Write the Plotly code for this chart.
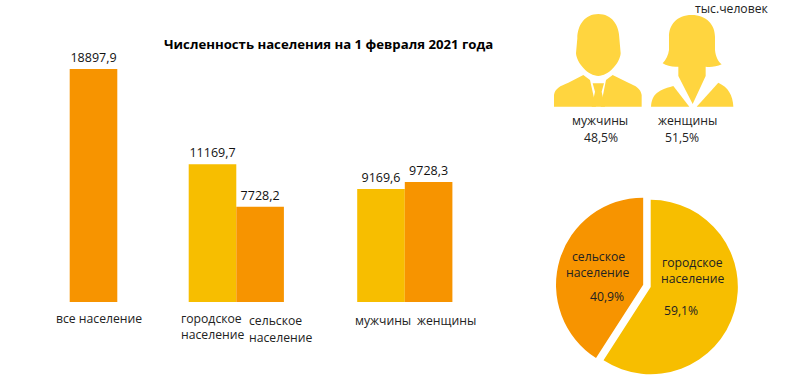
import re
import plotly.graph_objects as go

W, H = 804, 382
bar_labels = ["все население", "городское население", "сельское население", "мужчины", "женщины"]
bar_values = [18897.9, 11169.7, 7728.2, 9169.6, 9728.3]
YELLOW, ORANGE, ICON = "#F7BE00", "#F79400", "#FFD53F"
bar_colors = [ORANGE, YELLOW, ORANGE, YELLOW, ORANGE]
slots = [0, 2.5, 3.5, 6.04, 7.04]
pie_labels = ["городское население", "сельское население"]
pie_values = [59.1, 40.9]
FONT = "Open Sans"

fig = go.Figure()
fig.add_trace(go.Bar(
    x=slots, y=bar_values, width=1, marker=dict(color=bar_colors, line=dict(width=0)),
    text=[f"{v:.1f}".replace(".", ",") for v in bar_values], textposition="outside",
    textfont=dict(size=12.5, color="#111", family=FONT), cliponaxis=False,
    customdata=bar_labels, hoverinfo="skip", showlegend=False))
fig.add_trace(go.Pie(
    labels=pie_labels, values=pie_values, sort=False, direction="clockwise", rotation=0,
    pull=[0, 0.09], textinfo="none", hoverinfo="skip", showlegend=False,
    marker=dict(colors=[YELLOW, ORANGE], line=dict(width=0)),
    domain=dict(x=[555.7 / W, 745.7 / W], y=[0, 190 / H])))

def txt(s, x, y, size=12, bold=False, color="#222"):
    fig.add_annotation(text=f"<b>{s}</b>" if bold else s, x=x / W, y=1 - y / H, xref="paper", yref="paper",
                       showarrow=False, xanchor="center", yanchor="middle",
                       font=dict(size=size, family=FONT, color=color))

txt("Численность населения на 1 февраля 2021 года", 328, 44, 13.2, True, "#000")
for s, x, y in [("все население", 99, 318), ("городское", 211, 318), ("население", 212, 334),
                ("сельское", 275, 320), ("население", 280, 337), ("мужчины", 383, 320), ("женщины", 446, 320),
                ("мужчины", 600, 121), ("48,5%", 601, 137), ("женщины", 687, 121), ("51,5%", 682, 137),
                ("тыс.человек", 732, 8),
                ("сельское", 598, 256), ("население", 597, 272), ("40,9%", 607, 296),
                ("городское", 692, 262), ("население", 692, 278), ("59,1%", 681, 310)]:
    txt(s, x, y, 12.2)

def conv(path):
    toks = re.findall(r"[MCLZ]|-?[\d.]+", path)
    out, i = [], 0
    for t in toks:
        if t.isalpha():
            out.append(t)
        else:
            out.append(f"{(float(t) / 3 + 540) / W:.5f}" if i % 2 == 0 else f"{1 - float(t) / 3 / H:.5f}")
            i += 1
    return " ".join(out)

icons = [
    "M175,42 C215,42 238,75 238,115 L242,160 C240,190 205,228 175,228 C145,228 110,190 108,160 L112,115 C112,75 135,42 175,42 Z",
    "M42,320 L42,285 C45,265 60,258 85,248 L130,225 L150,240 L168,320 Z",
    "M305,320 L305,285 C302,265 288,258 265,248 L218,225 L198,240 L182,320 Z",
    "M158,250 L192,250 L185,275 L195,320 L155,320 L165,275 Z",
    "M455,45 C500,45 525,75 525,110 L525,150 C527,170 535,185 545,193 C530,200 510,202 497,200 L497,228 L458,312 L415,228 L415,200 C400,202 380,198 368,190 C378,180 385,165 387,150 L387,110 C387,75 410,45 455,45 Z",
    "M333,320 C335,290 345,272 400,258 L448,320 Z",
    "M580,320 C578,285 565,262 535,248 L470,320 Z",
]
shapes = [dict(type="path", xref="paper", yref="paper", path=conv(p), fillcolor=ICON, line=dict(width=0)) for p in icons]

x_left, px_per_slot = 45.9, 47.6
fig.update_layout(
    width=W, height=H, margin=dict(l=0, r=0, t=0, b=0), paper_bgcolor="white", plot_bgcolor="white",
    shapes=shapes,
    xaxis=dict(domain=[x_left / W, (x_left + 10 * px_per_slot) / W], range=[-1, 9], visible=False, fixedrange=True),
    yaxis=dict(domain=[80 / H, 342 / H], range=[0, 21250], visible=False, fixedrange=True),
)
fig.write_html("out.html", config=dict(displayModeBar=False),
               post_script="document.body.style.margin='0';document.body.style.overflow='hidden';")
